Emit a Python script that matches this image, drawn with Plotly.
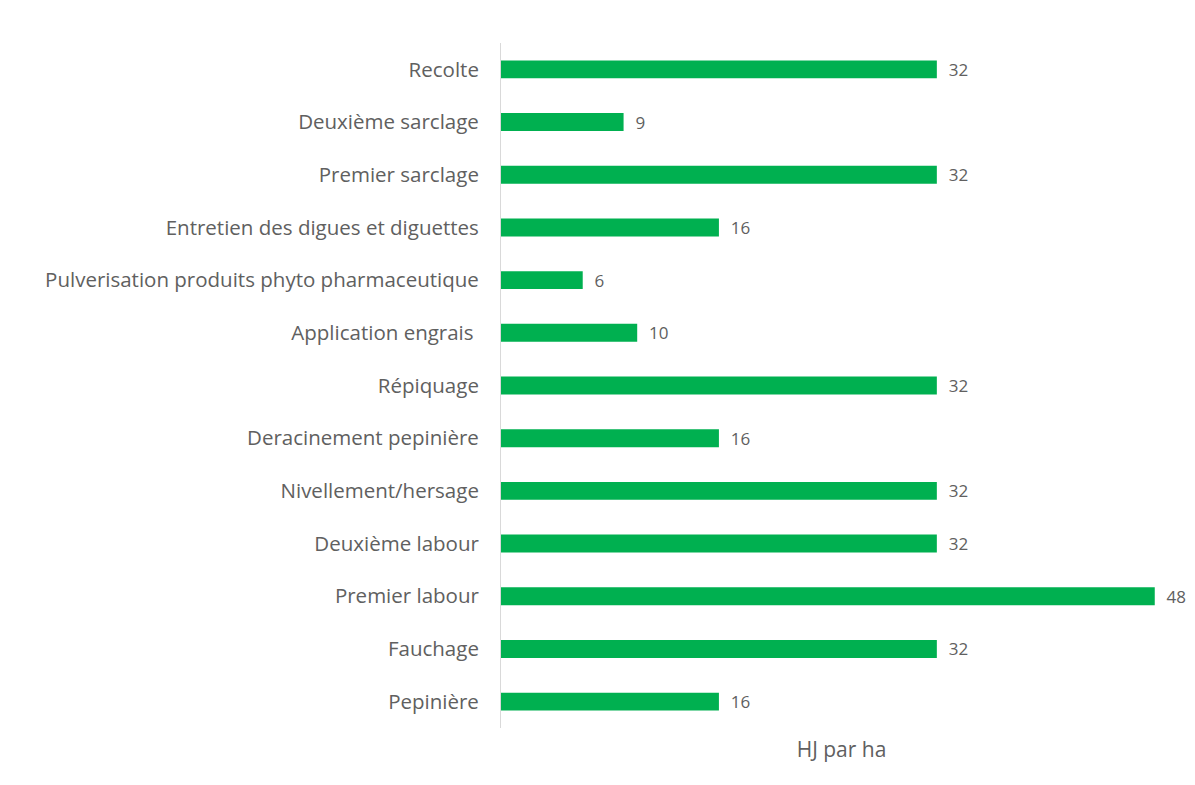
import plotly.graph_objects as go

categories = [
    "Pepinière",
    "Fauchage",
    "Premier labour",
    "Deuxième labour",
    "Nivellement/hersage",
    "Deracinement pepinière",
    "Répiquage",
    "Application engrais ",
    "Pulverisation produits phyto pharmaceutique",
    "Entretien des digues et diguettes",
    "Premier sarclage",
    "Deuxième sarclage",
    "Recolte",
]
values = [16, 32, 48, 32, 32, 16, 32, 10, 6, 16, 32, 9, 32]
axis_title = "HJ par ha"

FONT = "Open Sans, sans-serif"
GREY = "#606060"

fig = go.Figure(
    go.Bar(
        x=values,
        y=categories,
        orientation="h",
        marker=dict(color="#00B050", line=dict(width=0)),
        width=0.34,
        text=values,
        texttemplate="  %{text}",
        textposition="outside",
        constraintext="none",
        cliponaxis=False,
        textfont=dict(family=FONT, size=17, color=GREY),
    )
)

fig.update_layout(
    width=1195,
    height=785,
    paper_bgcolor="white",
    plot_bgcolor="white",
    margin=dict(l=493, r=21, t=35, b=65),
    showlegend=False,
    font=dict(family=FONT, color=GREY),
    bargap=0.66,
)
fig.update_xaxes(
    range=[0, 50],
    showgrid=False,
    showticklabels=False,
    zeroline=False,
    showline=False,
    title=dict(text=axis_title, font=dict(family=FONT, size=21, color=GREY), standoff=14),
)
fig.update_yaxes(
    categoryorder="array",
    categoryarray=categories,
    showgrid=False,
    zeroline=False,
    showline=True,
    linecolor="#D9D9D9",
    linewidth=1,
    ticks="",
    ticklabelstandoff=17,
    tickfont=dict(family=FONT, size=20.5, color=GREY),
)

fig.write_html("out.html")
